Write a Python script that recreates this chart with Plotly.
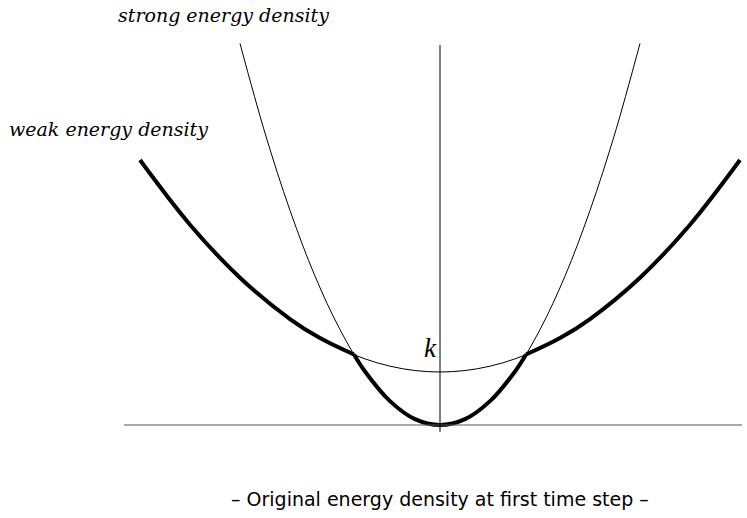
import plotly.graph_objects as go

# Curves (x in units where the axis spans about -3..3, y in units of k)
strong_x = [-2.0, -1.75, -1.5, -1.25, -1.0, -0.75, -0.5, -0.25, 0.0, 0.25, 0.5, 0.75, 1.0, 1.25, 1.5, 1.75, 2.0]
strong_y = [7.2, 5.51, 4.05, 2.81, 1.8, 1.01, 0.45, 0.11, 0.0, 0.11, 0.45, 1.01, 1.8, 2.81, 4.05, 5.51, 7.2]

weak_x = [-3.0, -2.5, -2.0, -1.5, -1.0, -0.5, 0.0, 0.5, 1.0, 1.5, 2.0, 2.5, 3.0]
weak_y = [5.0, 3.78, 2.78, 2.0, 1.44, 1.11, 1.0, 1.11, 1.44, 2.0, 2.78, 3.78, 5.0]

# Lower envelope (thick), in three pieces
env_left_x = [-3.0, -2.5, -2.0, -1.5, -1.2, -0.86]
env_left_y = [5.0, 3.78, 2.78, 2.0, 1.64, 1.33]
env_mid_x = [-0.86, -0.75, -0.5, -0.25, 0.0, 0.25, 0.5, 0.75, 0.86]
env_mid_y = [1.33, 1.01, 0.45, 0.11, 0.0, 0.11, 0.45, 1.01, 1.33]
env_right_x = [0.86, 1.2, 1.5, 2.0, 2.5, 3.0]
env_right_y = [1.33, 1.64, 2.0, 2.78, 3.78, 5.0]

k_value = 1.0

fig = go.Figure()
fig.add_trace(go.Scatter(x=strong_x, y=strong_y, mode="lines", line=dict(color="black", width=1, shape="spline"), hoverinfo="skip"))
fig.add_trace(go.Scatter(x=weak_x, y=weak_y, mode="lines", line=dict(color="black", width=1, shape="spline"), hoverinfo="skip"))
for ex, ey in [(env_left_x, env_left_y), (env_mid_x, env_mid_y), (env_right_x, env_right_y)]:
    fig.add_trace(go.Scatter(x=ex, y=ey, mode="lines", line=dict(color="black", width=4, shape="spline"), hoverinfo="skip"))

# axes
fig.add_shape(type="line", x0=-3.16, x1=3.02, y0=0, y1=0, line=dict(color="#555555", width=1))
fig.add_shape(type="line", x0=0, x1=0, y0=-0.13, y1=7.17, line=dict(color="black", width=1))

serif = "DejaVu Serif"
fig.add_annotation(x=-2.17, y=7.74, text="<i>strong energy density</i>", showarrow=False,
                   font=dict(family=serif, size=19, color="black"))
fig.add_annotation(x=-3.32, y=5.58, text="<i>weak energy density</i>", showarrow=False,
                   font=dict(family=serif, size=19, color="black"))
fig.add_annotation(x=-0.1, y=k_value + 0.45, text="<i>k</i>", showarrow=False,
                   font=dict(family="Liberation Serif", size=27, color="black"))
fig.add_annotation(x=0.0, y=-1.4, text="– Original energy density at first time step –", showarrow=False,
                   font=dict(family="DejaVu Sans", size=19, color="black"))

fig.update_layout(
    width=747, height=518,
    margin=dict(l=0, r=0, t=0, b=0),
    paper_bgcolor="white", plot_bgcolor="white",
    showlegend=False,
    xaxis=dict(range=[-4.4, 3.07], visible=False, fixedrange=True),
    yaxis=dict(range=[-1.755, 8.02], visible=False, fixedrange=True),
)

fig.write_html("out.html", config={"displayModeBar": False},
               post_script="document.body.style.margin='0px';")
